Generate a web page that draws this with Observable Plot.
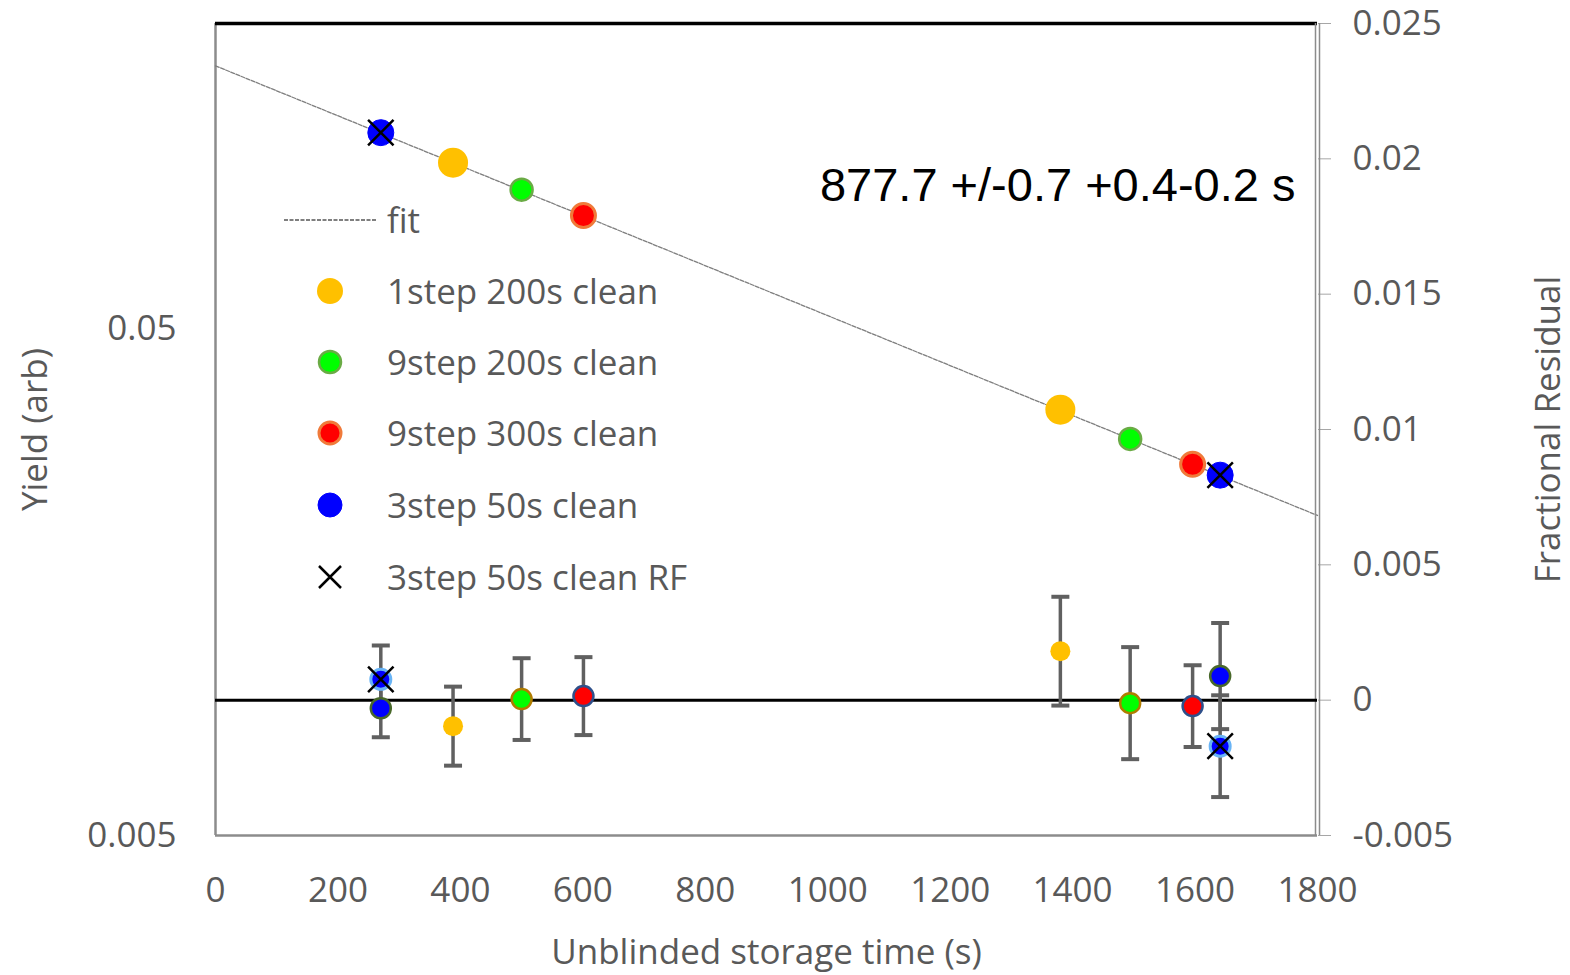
<!DOCTYPE html>
<html>
<head>
<meta charset="utf-8">
<script src="https://cdn.jsdelivr.net/npm/d3@7"></script>
<script src="https://cdn.jsdelivr.net/npm/@observablehq/plot@0.6"></script>
<style>
  body { margin: 0; background: #fff; }
  #wrap { position: relative; width: 1570px; height: 975px; font-family: "Open Sans", sans-serif; overflow: hidden; }
  #wrap > svg { position: absolute; left: 0; top: 0; }
  .leg { position: absolute; left: 270px; height: 40px; display: flex; align-items: center; }
  .leg svg { width: 120px; height: 40px; flex: none; }
  .leg span { font-size: 35px; line-height: 40px; color: #595959; margin-left: -3px; white-space: nowrap; }
</style>
</head>
<body>
<div id="wrap"></div>
<script>
// ---------------- data ----------------
const xTicks = [0, 200, 400, 600, 800, 1000, 1200, 1400, 1600, 1800];
const yieldTicks = [0.005, 0.05];
const residTicks = [-0.005, 0, 0.005, 0.01, 0.015, 0.02, 0.025];

const seriesNames = ["1step 200s clean", "9step 200s clean", "9step 300s clean", "3step 50s clean", "3step 50s clean RF"];

// yield (left, log axis)
const yieldTime   = [270, 388, 500, 601, 1380, 1494, 1596, 1641];
const yieldValue  = [0.1218, 0.1063, 0.0940, 0.0836, 0.0346, 0.0303, 0.0270, 0.0257];
const yieldSeries = ["3step 50s clean", "1step 200s clean", "9step 200s clean", "9step 300s clean",
                     "1step 200s clean", "9step 200s clean", "9step 300s clean", "3step 50s clean"];
const rfTime  = [270, 1641];
const rfYield = [0.1218, 0.0257];

// fit line (straight on log axis): endpoints
const fitTime  = [0, 1800];
const fitYield = [0.165, 0.0214];

// fractional residual (right, linear axis)
const residTime   = [270, 270, 388, 500, 601, 1380, 1494, 1596, 1641, 1641];
const residSeries = ["3step 50s clean RF", "3step 50s clean", "1step 200s clean", "9step 200s clean", "9step 300s clean",
                     "1step 200s clean", "9step 200s clean", "9step 300s clean", "3step 50s clean", "3step 50s clean RF"];
const residValue  = [0.00077, -0.00030, -0.00096, 0.00004, 0.00015, 0.00181, -0.00011, -0.00022, 0.00089, -0.00170];
const residError  = [0.00125, 0.00107, 0.00146, 0.00151, 0.00144, 0.00201, 0.00207, 0.00151, 0.00196, 0.00188];

const fitLabel = "877.7 +/-0.7 +0.4-0.2 s";

// ---------------- styles ----------------
const upperStyle = {
  "1step 200s clean": {fill: "#FFC000", stroke: "none", sw: 0, r: 15},
  "9step 200s clean": {fill: "#00FF00", stroke: "#6AAB45", sw: 2.5, r: 11},
  "9step 300s clean": {fill: "#FF0000", stroke: "#F07A3A", sw: 3, r: 12},
  "3step 50s clean":  {fill: "#0000FF", stroke: "#0000FF", sw: 1, r: 13}
};
const residStyle = {
  "1step 200s clean":   {fill: "#FFC000", stroke: "none", sw: 0},
  "9step 200s clean":   {fill: "#00FF00", stroke: "#B07C00", sw: 2.5},
  "9step 300s clean":   {fill: "#FF0000", stroke: "#2E4F8A", sw: 2.5},
  "3step 50s clean":    {fill: "#0000FF", stroke: "#48682A", sw: 2.5},
  "3step 50s clean RF": {fill: "#0000FF", stroke: "#69B4F5", sw: 3}
};

const capSymbol = {draw(ctx, size) { const w = Math.sqrt(size / Math.PI); ctx.moveTo(-w, 0); ctx.lineTo(w, 0); }};
const crossSymbol = {draw(ctx, size) { const a = Math.sqrt(size / Math.PI) * Math.SQRT1_2;
  ctx.moveTo(-a, -a); ctx.lineTo(a, a); ctx.moveTo(-a, a); ctx.lineTo(a, -a); }};

// ---------------- tables ----------------
const yieldData = yieldTime.map((t, i) => ({t, v: yieldValue[i], s: yieldSeries[i]}));
const rfData = rfTime.map((t, i) => ({t, v: rfYield[i]}));
const fitData = fitTime.map((t, i) => ({t, v: fitYield[i]}));
const residData = residTime.map((t, i) => ({t, v: residValue[i], e: residError[i], s: residSeries[i]}));

const W = 1570, H = 975;
const margins = {marginLeft: 215, marginRight: 253, marginTop: 23, marginBottom: 140};
const baseStyle = {background: "transparent", fontFamily: "Open Sans, sans-serif", fontSize: "35px", color: "#595959", overflow: "visible"};
const gray = "#595959";

// ---------------- yield plot (log) ----------------
const upperMarks = [
  Plot.ruleX([0], {stroke: "#8C8C8C", strokeWidth: 2.5}),
  Plot.ruleY([0.005], {stroke: "#8C8C8C", strokeWidth: 2.5}),
  Plot.line(fitData, {x: "t", y: "v", stroke: "#7F7F7F", strokeWidth: 1.3, strokeDasharray: "4,1.5"})
];
for (const name of ["1step 200s clean", "9step 200s clean", "9step 300s clean", "3step 50s clean"]) {
  const st = upperStyle[name];
  upperMarks.push(Plot.dot(yieldData.filter(d => d.s === name),
    {x: "t", y: "v", r: st.r, fill: st.fill, stroke: st.stroke, strokeWidth: st.sw}));
}
upperMarks.push(Plot.dot(rfData, {x: "t", y: "v", r: 18, symbol: crossSymbol, fill: "none", stroke: "black", strokeWidth: 2.5}));
upperMarks.push(Plot.text([fitLabel], {frameAnchor: "top-right", dx: -22, dy: 162, lineAnchor: "middle",
  fontSize: 47, fontFamily: "Liberation Sans, Arial, sans-serif", fill: "black"}));
upperMarks.push(Plot.text(["Unblinded storage time (s)"], {frameAnchor: "bottom", lineAnchor: "middle", dy: 117, fontSize: 35, fill: gray}));
upperMarks.push(Plot.text(["Yield (arb)"], {frameAnchor: "left", lineAnchor: "middle", textAnchor: "middle", rotate: -90, dx: -180, fontSize: 35, fill: gray}));
upperMarks.push(Plot.text(["Fractional Residual"], {frameAnchor: "right", lineAnchor: "middle", textAnchor: "middle", rotate: -90, dx: 231, fontSize: 35, fill: gray}));

const upper = Plot.plot({
  width: W, height: H, ...margins,
  style: baseStyle,
  x: {domain: [0, 1800], ticks: xTicks, tickSize: 0, tickPadding: 42, tickFormat: d => String(d), label: null},
  y: {type: "log", domain: [0.005, 0.2], ticks: yieldTicks, tickSize: 0, tickPadding: 39, tickFormat: d => String(d), label: null},
  marks: upperMarks
});

// ---------------- residual plot (linear) ----------------
const lowerMarks = [
  Plot.ruleY([0.025], {stroke: "black", strokeWidth: 3.5}),
  Plot.ruleX([1800], {stroke: "#8C8C8C", strokeWidth: 1.5, dx: -2}),
  Plot.ruleX([1800], {stroke: "#8C8C8C", strokeWidth: 1.5, dx: 2}),
  Plot.ruleY([0], {stroke: "black", strokeWidth: 3}),
  Plot.ruleX(residData, {x: "t", y1: d => d.v - d.e, y2: d => d.v + d.e, stroke: "#606060", strokeWidth: 3.5}),
  Plot.dot(residData, {x: "t", y: d => d.v + d.e, symbol: capSymbol, r: 9, stroke: "#606060", strokeWidth: 4, fill: "none"}),
  Plot.dot(residData, {x: "t", y: d => d.v - d.e, symbol: capSymbol, r: 9, stroke: "#606060", strokeWidth: 4, fill: "none"})
];
for (const name of ["1step 200s clean", "9step 200s clean", "9step 300s clean", "3step 50s clean", "3step 50s clean RF"]) {
  const st = residStyle[name];
  lowerMarks.push(Plot.dot(residData.filter(d => d.s === name),
    {x: "t", y: "v", r: 10, fill: st.fill, stroke: st.stroke, strokeWidth: st.sw}));
}
lowerMarks.push(Plot.dot(residData.filter(d => d.s === "3step 50s clean RF"),
  {x: "t", y: "v", r: 18, symbol: crossSymbol, fill: "none", stroke: "black", strokeWidth: 2.5}));

const lower = Plot.plot({
  width: W, height: H, ...margins,
  style: baseStyle,
  x: {domain: [0, 1800], axis: null},
  y: {domain: [-0.005, 0.025], axis: "right", ticks: residTicks, tickSize: 13, tickPadding: 22,
      tickFormat: d => String(+d.toFixed(3)), label: null},
  marks: lowerMarks
});
lower.querySelectorAll('[aria-label="y-axis tick"] path, [aria-label="y-axis"] line, [aria-label="y-axis tick"]').forEach(e => e.setAttribute("stroke", "#A6A6A6"));

const wrap = document.getElementById("wrap");
wrap.appendChild(upper);
wrap.appendChild(lower);

// ---------------- legend ----------------
const legendRows = [
  {label: "fit", kind: "line", cy: 220},
  {label: seriesNames[0], kind: "dot", cy: 291},
  {label: seriesNames[1], kind: "dot", cy: 362},
  {label: seriesNames[2], kind: "dot", cy: 433},
  {label: seriesNames[3], kind: "dot", cy: 505},
  {label: seriesNames[4], kind: "cross", cy: 577}
];
const legR = {"1step 200s clean": 13, "9step 200s clean": 11, "9step 300s clean": 11, "3step 50s clean": 12};
for (const row of legendRows) {
  const div = document.createElement("div");
  div.className = "leg";
  div.style.top = (row.cy - 20) + "px";
  let sym = "";
  if (row.kind === "line") {
    sym = `<line x1="14" x2="106" y1="20" y2="20" stroke="#555" stroke-width="1.4" stroke-dasharray="4,1.5"/>`;
  } else if (row.kind === "dot") {
    const st = upperStyle[row.label];
    sym = `<circle cx="60" cy="20" r="${legR[row.label]}" fill="${st.fill}" stroke="${st.stroke}" stroke-width="${st.sw}"/>`;
  } else {
    sym = `<path d="M49,9L71,31M49,31L71,9" stroke="black" stroke-width="2.5" fill="none"/>`;
  }
  div.innerHTML = `<svg viewBox="0 0 120 40">${sym}</svg><span>${row.label}</span>`;
  wrap.appendChild(div);
}
</script>
</body>
</html>
